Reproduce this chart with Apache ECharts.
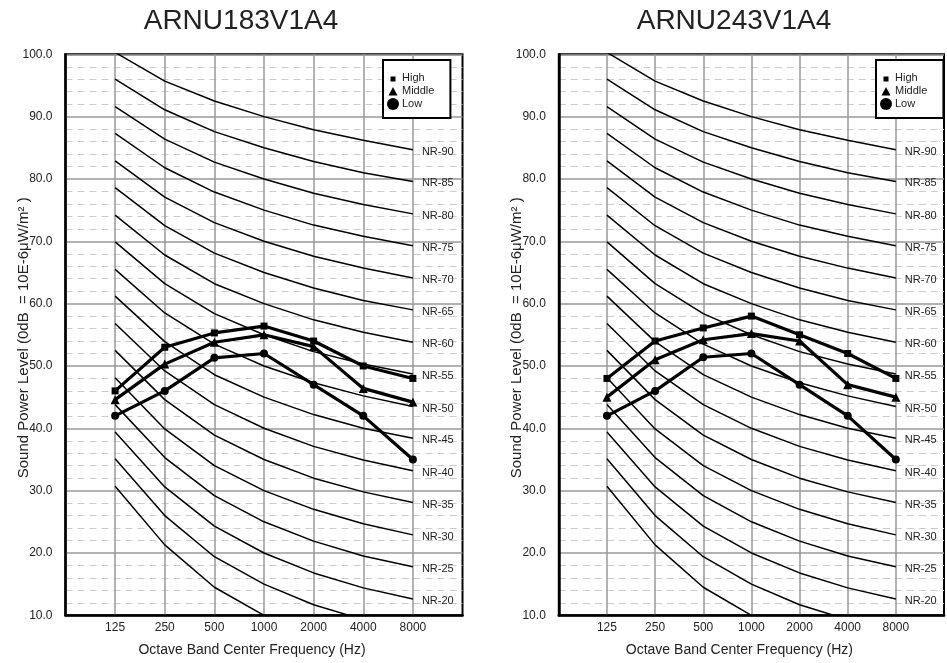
<!DOCTYPE html>
<html>
<head>
<meta charset="utf-8">
<script src="https://cdn.jsdelivr.net/npm/echarts@6/dist/echarts.min.js"></script>
<style>
html, body { margin: 0; padding: 0; background: #fff; }
#main { width: 947px; height: 663px; }
</style>
</head>
<body>
<div id="main"></div>
<script>
// x axis: one blank slot each side so 125 and 8000 sit inside the frame
var freqs = ['', '125', '250', '500', '1000', '2000', '4000', '8000', ''];
var bands = ['125', '250', '500', '1000', '2000', '4000', '8000'];

// NR reference curves, 125 .. 8000 Hz
var nr10 = [30.7, 21.3, 14.5, 10.0, 6.7, 4.2, 2.3];
var nr15 = [35.1, 26.0, 19.4, 15.0, 11.7, 9.3, 7.5];
var nr20 = [39.4, 30.6, 24.3, 20.0, 16.8, 14.4, 12.6];
var nr25 = [43.8, 35.3, 29.2, 25.0, 21.9, 19.5, 17.8];
var nr30 = [48.1, 39.9, 34.0, 30.0, 27.0, 24.7, 22.9];
var nr35 = [52.5, 44.6, 38.9, 35.0, 32.0, 29.8, 28.1];
var nr40 = [56.8, 49.2, 43.8, 40.0, 37.1, 34.9, 33.2];
var nr45 = [61.2, 53.9, 48.6, 45.0, 42.2, 40.0, 38.4];
var nr50 = [65.5, 58.5, 53.5, 50.0, 47.3, 45.2, 43.5];
var nr55 = [69.9, 63.2, 58.4, 55.0, 52.3, 50.3, 48.7];
var nr60 = [74.2, 67.8, 63.2, 60.0, 57.4, 55.4, 53.8];
var nr65 = [78.6, 72.5, 68.1, 65.0, 62.5, 60.5, 59.0];
var nr70 = [82.9, 77.1, 73.0, 70.0, 67.6, 65.7, 64.1];
var nr75 = [87.3, 81.8, 77.9, 75.0, 72.6, 70.8, 69.3];
var nr80 = [91.6, 86.4, 82.7, 80.0, 77.7, 75.9, 74.4];
var nr85 = [96.0, 91.1, 87.6, 85.0, 82.8, 81.0, 79.6];
var nr90 = [100.3, 95.7, 92.5, 90.0, 87.9, 86.2, 84.7];
var nrLevels = [10, 15, 20, 25, 30, 35, 40, 45, 50, 55, 60, 65, 70, 75, 80, 85, 90];
var nrCurves = [nr10, nr15, nr20, nr25, nr30, nr35, nr40, nr45, nr50, nr55, nr60, nr65, nr70, nr75, nr80, nr85, nr90];

// ARNU183V1A4
var high183 = [46.0, 53.0, 55.3, 56.4, 54.0, 50.0, 48.0];
var mid183 = [44.6, 50.3, 53.8, 55.0, 53.1, 46.4, 44.2];
var low183 = [42.0, 46.0, 51.3, 52.0, 47.0, 42.0, 35.0];
// ARNU243V1A4
var high243 = [48.0, 54.0, 56.1, 58.0, 55.0, 52.0, 48.0];
var mid243 = [45.0, 51.0, 54.2, 55.2, 54.0, 47.0, 45.0];
var low243 = [42.0, 46.0, 51.4, 52.0, 47.0, 42.0, 35.0];

var yTicks = [10, 20, 30, 40, 50, 60, 70, 80, 90, 100];

var FONT = 'Liberation Sans, Arial, sans-serif';

function pairs(vals) {
  return bands.map(function (b, i) { return [b, vals[i]]; });
}

// legend icons (extra moveTo points pad the box so the glyph stays small)
var squareIcon = 'path://M0 0M12 12M3.5 4.5L8.5 4.5L8.5 9.5L3.5 9.5Z';
var triIcon = 'path://M0 0M12 12M1.5 10.5L6 2L10.5 10.5Z';

function makeXAxis(idx) {
  return {
    type: 'category', gridIndex: idx, data: freqs, boundaryGap: false,
    axisTick: { show: false },
    axisLine: { lineStyle: { color: '#000', width: 2.5 } },
    axisLabel: { interval: 0, fontSize: 12, color: '#222', margin: 6, fontFamily: FONT },
    splitLine: {
      show: true,
      interval: function (i) { return i > 0 && i < freqs.length - 1; },
      lineStyle: { color: '#999', width: 1.5 }
    },
    name: 'Octave Band Center Frequency (Hz)',
    nameLocation: 'middle', nameGap: 28, nameMoveOverlap: false,
    nameTextStyle: { fontSize: 14, color: '#222', fontFamily: FONT, padding: [0, 24, 0, 0] }
  };
}

function makeYAxis(idx) {
  return {
    type: 'value', gridIndex: idx, min: yTicks[0], max: yTicks[yTicks.length - 1], interval: 10,
    axisLine: { show: true, lineStyle: { color: '#000', width: 2.5 } },
    axisTick: { show: false },
    axisLabel: {
      fontSize: 12, color: '#222', margin: 13, fontFamily: FONT,
      formatter: function (v) { return v.toFixed(1); }
    },
    splitLine: { lineStyle: { color: '#999', width: 1.5 } },
    minorTick: { show: false, splitNumber: 5 },
    minorSplitLine: { show: true, lineStyle: { color: '#ccc', width: 1, type: [7, 5] } },
    name: 'Sound Power Level (0dB  = 10E-6\u03bcW/m\u00b2 )',
    nameLocation: 'middle', nameGap: 34, nameMoveOverlap: false,
    nameTextStyle: { fontSize: 15, color: '#222', fontFamily: FONT, padding: [0, 6, 0, 0] }
  };
}

var series = [];
[0, 1].forEach(function (g) {
  nrCurves.forEach(function (c, k) {
    var lvl = nrLevels[k];
    series.push({
      name: 'NR-' + lvl, type: 'line', xAxisIndex: g, yAxisIndex: g,
      data: pairs(c), symbol: 'none', showSymbol: false, silent: true, z: 2,
      lineStyle: { color: '#000', width: 1.5 },
      endLabel: {
        show: lvl >= 20, formatter: 'NR-' + lvl, fontSize: 11, color: '#222',
        fontFamily: FONT, distance: 9, offset: [0, 2]
      }
    });
  });
  var sets = g === 0 ? [high183, mid183, low183] : [high243, mid243, low243];
  var names = ['High', 'Middle', 'Low'];
  var syms = ['rect', 'triangle', 'circle'];
  var sizes = [7, 9, 8];
  sets.forEach(function (vals, k) {
    series.push({
      name: names[k], type: 'line', xAxisIndex: g, yAxisIndex: g,
      data: pairs(vals), symbol: syms[k], symbolSize: sizes[k], showSymbol: true, z: 5,
      lineStyle: { color: '#000', width: 3.2 },
      itemStyle: { color: '#000' }
    });
  });
});

function makeLegend(left) {
  return {
    orient: 'vertical', left: left, top: 60, z: 10,
    padding: [12, 16, 8, 4], itemGap: 1, itemWidth: 12, itemHeight: 12,
    backgroundColor: '#fff', borderColor: '#000', borderWidth: 2,
    textStyle: { fontSize: 11, color: '#222', fontFamily: FONT, padding: [0, 0, 0, -2] },
    data: [
      { name: 'High', icon: squareIcon },
      { name: 'Middle', icon: triIcon },
      { name: 'Low', icon: 'circle' }
    ]
  };
}

var chart = echarts.init(document.getElementById('main'));
chart.setOption({
  animation: false,
  backgroundColor: '#fff',
  textStyle: { fontFamily: FONT },
  title: [
    { text: 'ARNU183V1A4', left: 236, top: 2, textAlign: 'center',
      textStyle: { fontSize: 28, fontWeight: 'normal', color: '#222', fontFamily: FONT } },
    { text: 'ARNU243V1A4', left: 729, top: 2, textAlign: 'center',
      textStyle: { fontSize: 28, fontWeight: 'normal', color: '#222', fontFamily: FONT } }
  ],
  legend: [makeLegend(383), makeLegend(876)],
  grid: [
    { left: 65.5, top: 54.3, width: 397, height: 561, show: true, borderColor: '#000', borderWidth: 2 },
    { left: 558.8, top: 54.3, width: 396, height: 561, show: true, borderColor: '#000', borderWidth: 2 }
  ],
  xAxis: [makeXAxis(0), makeXAxis(1)],
  yAxis: [makeYAxis(0), makeYAxis(1)],
  series: series
});
</script>
</body>
</html>
